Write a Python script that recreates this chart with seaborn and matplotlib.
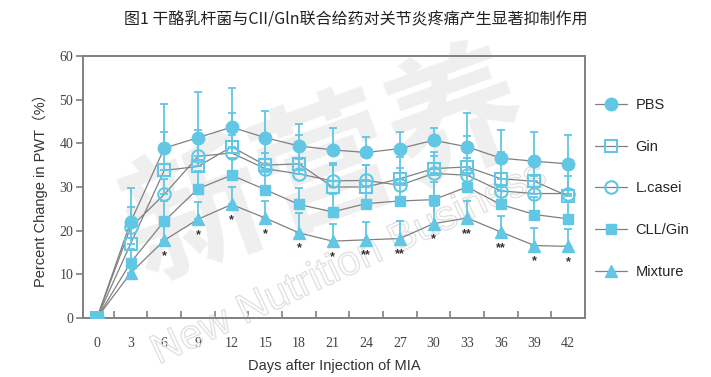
import numpy as np
import pandas as pd
import seaborn as sns
import matplotlib.pyplot as plt
import matplotlib.patheffects as pe
from matplotlib.lines import Line2D

# datos
days = [0, 3, 6, 9, 12, 15, 18, 21, 24, 27, 30, 33, 36, 39, 42]
groups = ["PBS", "Gin", "L.casei", "CLL/Gin", "Mixture"]

pbs = [0, 22.0, 38.9, 41.3, 43.7, 41.3, 39.4, 38.5, 37.9, 38.8, 40.7, 39.2, 36.6, 35.9, 35.3]
gin = [0, 17.0, 33.8, 34.7, 39.2, 35.0, 35.3, 30.0, 30.0, 31.9, 34.2, 34.6, 31.9, 31.3, 27.9]
lcasei = [0, 20.8, 28.3, 37.0, 37.8, 34.2, 33.0, 31.4, 31.5, 30.4, 33.1, 32.7, 29.1, 28.5, 28.5]
cll_gin = [0, 12.7, 22.2, 29.6, 32.7, 29.4, 26.0, 24.3, 26.2, 26.8, 27.1, 30.0, 26.0, 23.7, 22.7]
mixture = [0, 10.3, 17.8, 22.6, 26.0, 22.9, 19.5, 17.6, 17.9, 18.2, 21.6, 22.9, 19.7, 16.6, 16.4]

# solo barras hacia arriba
pbs_sd = [0, 7.8, 10.0, 10.5, 9.0, 6.0, 5.1, 5.0, 3.6, 3.9, 2.9, 7.7, 6.4, 6.7, 6.7]
gin_sd = [0, 4.0, 8.9, 8.3, 7.7, 5.0, 6.5, 5.0, 5.0, 5.0, 3.8, 7.0, 6.0, 5.0, 7.0]
lcasei_sd = [0, 4.6, 3.5, 4.0, 4.0, 3.5, 3.5, 4.0, 3.5, 4.0, 4.0, 4.0, 4.0, 4.0, 4.0]
cll_gin_sd = [0, 3.0, 4.5, 4.0, 4.0, 4.0, 3.8, 4.0, 4.0, 4.0, 4.0, 4.5, 4.0, 4.0, 4.0]
mixture_sd = [0, 2.5, 3.5, 4.0, 4.0, 4.0, 4.6, 4.0, 4.0, 4.0, 4.0, 4.0, 3.7, 4.0, 4.0]

stars = ["", "", "*", "*", "*", "*", "*", "*", "**", "**", "*", "**", "**", "*", "*"]

means = [pbs, gin, lcasei, cll_gin, mixture]
sds = [pbs_sd, gin_sd, lcasei_sd, cll_gin_sd, mixture_sd]

# tabla larga para seaborn
df = pd.DataFrame({
    "day": days * len(groups),
    "pwt": sum(means, []),
    "group": sum([[g] * len(days) for g in groups], []),
})

blue = "#62c6e5"
gray = "#808080"
styles = {
    "PBS": dict(marker="o", ms=9, mfc=blue, mec=blue),
    "Gin": dict(marker="s", ms=8, mfc="none", mec=blue, mew=1.5),
    "L.casei": dict(marker="o", ms=9, mfc="none", mec=blue, mew=1.5),
    "CLL/Gin": dict(marker="s", ms=7.5, mfc=blue, mec=blue),
    "Mixture": dict(marker="^", ms=9, mfc=blue, mec=blue),
}

sns.set_theme(style="ticks")
plt.rcParams["font.family"] = ["Liberation Sans", "DejaVu Sans"]

fig = plt.figure(figsize=(7.11, 3.77), dpi=100)
ax = fig.add_axes([0.1167, 0.1565, 0.706, 0.695])

# marca de agua
ax.text(0.46, 0.55, "新营养", transform=fig.transFigure, fontsize=100, color="#efefef",
        rotation=20, ha="center", va="center", zorder=0.5,
        family=["Noto Sans CJK SC", "DejaVu Sans"], fontweight="bold")
ax.text(0.49, 0.3, "New Nutrition Business", transform=fig.transFigure, fontsize=30,
        color="none", rotation=25, ha="center", va="center", zorder=0.6,
        path_effects=[pe.Stroke(linewidth=1, foreground="#e2e2e2")])

# lineas grises
sns.lineplot(data=df, x="day", y="pwt", units="group", estimator=None,
             color=gray, lw=0.9, ax=ax, zorder=2)

# barras de error (solo arriba) y marcadores
for g, m, s in zip(groups, means, sds):
    ax.errorbar(days, m, yerr=[np.zeros(len(s)), s], fmt="none", ecolor=blue,
                elinewidth=1.3, capsize=2.8, capthick=1.3, zorder=3)
for g, m in zip(groups, means):
    ax.plot(days, m, ls="none", zorder=5 if g == "CLL/Gin" else 4, **styles[g])

# asteriscos
for d, y, st in zip(days, mixture, stars):
    if st:
        ax.text(d, y - 3.6, st, ha="center", va="center", fontsize=9, color="#333333",
                fontweight="bold")

ax.set_xlim(-1.25, 43.5)
ax.set_ylim(0, 60)
ax.set_xticks(days)
ax.set_xticklabels([str(d) for d in days], family="Liberation Serif", fontsize=10)
ax.set_xticks(np.arange(1.5, 42, 3), minor=True)
ax.tick_params(axis="x", which="major", length=0, pad=14, colors="#444444")
ax.tick_params(axis="x", which="minor", direction="in", length=5, width=1.2, color=gray)
ax.set_yticks(range(0, 61, 10))
ax.set_yticklabels([str(v) for v in range(0, 61, 10)], family="Liberation Serif", fontsize=10)
ax.tick_params(axis="y", direction="out", length=5, width=1.2, color=gray, labelcolor="#444444", pad=2)
for sp in ax.spines.values():
    sp.set_color(gray)
    sp.set_linewidth(1.4)

ax.set_xlabel("Days after Injection of MIA", fontsize=10.5, color="#333333", labelpad=6)
ax.set_ylabel("Percent Change in PWT（%）", fontsize=10.5, color="#333333", labelpad=8,
              family=["Liberation Sans", "Noto Sans CJK SC"])

fig.suptitle("图1 干酪乳杆菌与CII/Gln联合给药对关节炎疼痛产生显著抑制作用", x=0.5, y=0.97,
             fontsize=11.5, color="#222222", family=["Noto Sans CJK SC", "DejaVu Sans"])

handles = [Line2D([0], [0], color=gray, lw=0.9, **styles[g]) for g in groups]
fig.legend(handles, groups, loc="upper left", bbox_to_anchor=(0.818, 0.775), frameon=False,
           fontsize=10.5, handlelength=2.2, labelspacing=1.9, handletextpad=0.6)

fig.savefig("out.png", dpi=100)
